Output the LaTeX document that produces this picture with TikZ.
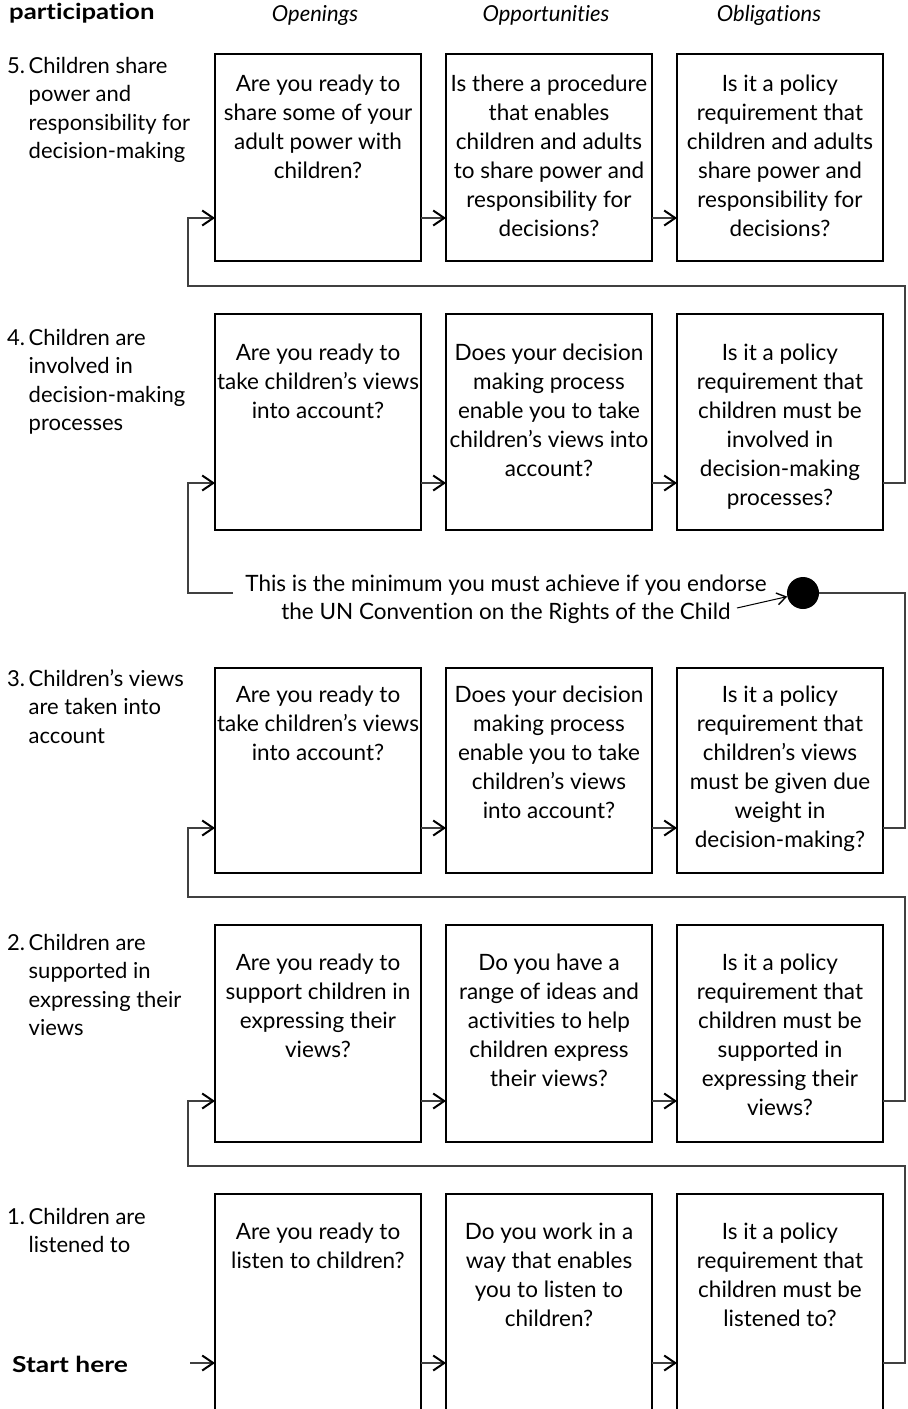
\documentclass[tikz,border=0pt]{standalone}
\usepackage{graphicx}
\usepackage{fontspec}
\setmainfont{Lato}[Ligatures={TeX,NoCommon}]
\usetikzlibrary{arrows.meta}
\begin{document}
\begin{tikzpicture}[x=1pt,y=-1pt,
  box/.style={draw=black, line width=2.8pt, minimum width=206pt, minimum height=#1,
    anchor=north west, inner sep=0pt, outer sep=0pt},
  qtext/.style={anchor=north, align=center, inner sep=0pt,
    font=\fontsize{22.5}{29}\selectfont},
  level/.style={anchor=north west, inner sep=0pt, font=\fontsize{22}{28.5}\selectfont},
  colhead/.style={inner sep=0pt, font=\fontsize{22}{24}\selectfont\itshape},
  boldtext/.style={anchor=west, inner sep=0pt, font=\fontsize{22}{24}\selectfont\bfseries},
  link/.style={line width=1.3pt, draw=black!75,
    -{Straight Barb[length=11pt,width=15pt,line width=2pt,color=black]}},
  backline/.style={line width=1.3pt, draw=black!75},
]
\clip (0,0) rectangle (908,1409);

% headings
\node[boldtext] (hpart) at (9,13) {\scalebox{1.17}[1]{participation}};
\node[colhead] (hopen) at (315,15) {Openings};
\node[colhead] (hopp)  at (546,15) {Opportunities};
\node[colhead] (hobl)  at (769,15) {Obligations};

% level labels
\newcommand\lvl[2]{\begin{tabular}{@{}p{21.5pt}@{}l@{}}#1 & #2\end{tabular}}
\node[level] (l5) at (7,53)   {\lvl{5.}{Children share\\ & power and\\ & responsibility for\\ & decision-making}};
\node[level] (l4) at (7,325)  {\lvl{4.}{Children are\\ & involved in\\ & decision-making\\ & processes}};
\node[level] (l3) at (7,666)  {\lvl{3.}{Children's views\\ & are taken into\\ & account}};
\node[level] (l2) at (7,930)  {\lvl{2.}{Children are\\ & supported in\\ & expressing their\\ & views}};
\node[level] (l1) at (7,1204) {\lvl{1.}{Children are\\ & listened to}};

% boxes: row 5
\node[box=207pt] (b51) at (215,54) {};
\node[box=207pt] (b52) at (446,54) {};
\node[box=207pt] (b53) at (677,54) {};
% row 4
\node[box=216pt] (b41) at (215,314) {};
\node[box=216pt] (b42) at (446,314) {};
\node[box=216pt] (b43) at (677,314) {};
% row 3
\node[box=205pt] (b31) at (215,668) {};
\node[box=205pt] (b32) at (446,668) {};
\node[box=205pt] (b33) at (677,668) {};
% row 2
\node[box=217pt] (b21) at (215,925) {};
\node[box=217pt] (b22) at (446,925) {};
\node[box=217pt] (b23) at (677,925) {};
% row 1 (runs off the bottom edge)
\node[box=240pt] (b11) at (215,1194) {};
\node[box=240pt] (b12) at (446,1194) {};
\node[box=240pt] (b13) at (677,1194) {};

% questions
\node[qtext] (q51) at (318,75) {Are you ready to\\share some of your\\adult power with\\children?};
\node[qtext] (q52) at (549,75) {Is there a procedure\\that enables\\children and adults\\to share power and\\responsibility for\\decisions?};
\node[qtext] (q53) at (780,75) {Is it a policy\\requirement that\\children and adults\\share power and\\responsibility for\\decisions?};

\node[qtext] (q41) at (318,344) {Are you ready to\\take children's views\\into account?};
\node[qtext] (q42) at (549,344) {Does your decision\\making process\\enable you to take\\children's views into\\account?};
\node[qtext] (q43) at (780,344) {Is it a policy\\requirement that\\children must be\\involved in\\decision-making\\processes?};

\node[qtext] (q31) at (318,686) {Are you ready to\\take children's views\\into account?};
\node[qtext] (q32) at (549,686) {Does your decision\\making process\\enable you to take\\children's views\\into account?};
\node[qtext] (q33) at (780,686) {Is it a policy\\requirement that\\children's views\\must be given due\\weight in\\decision-making?};

\node[qtext] (q21) at (318,954) {Are you ready to\\support children in\\expressing their\\views?};
\node[qtext] (q22) at (549,954) {Do you have a\\range of ideas and\\activities to help\\children express\\their views?};
\node[qtext] (q23) at (780,954) {Is it a policy\\requirement that\\children must be\\supported in\\expressing their\\views?};

\node[qtext] (q11) at (318,1223) {Are you ready to\\listen to children?};
\node[qtext] (q12) at (549,1223) {Do you work in a\\way that enables\\you to listen to\\children?};
\node[qtext] (q13) at (780,1223) {Is it a policy\\requirement that\\children must be\\listened to?};

% start
\node[boldtext] (start) at (12,1364) {\scalebox{1.2}[1]{Start here}};

% minimum-standard marker
\node[align=center, inner sep=0pt, font=\fontsize{22.5}{28}\selectfont] (un) at (506,599)
  {This is the minimum you must achieve if you endorse\\the UN Convention on the Rights of the Child};
\node[circle, fill=black, minimum size=32pt, inner sep=0pt] (dot) at (803,593) {};

% arrow levels and turning points
\coordinate (r1) at (190,1363);
\coordinate (r2) at (188,1101);
\coordinate (r3) at (188,828);
\coordinate (r4) at (188,483);
\coordinate (r5) at (188,218);
\coordinate (unl) at (233,593);
\coordinate (una) at (737,608);

% row 1
\draw[link] (r1) -- (b11.west |- r1);
\draw[link] (b11.east |- r1) -- (b12.west |- r1);
\draw[link] (b12.east |- r1) -- (b13.west |- r1);
\draw[link] (b13.east |- r1) -- (905,1363) -- (905,1166) -- (188,1166) -- (r2) -- (b21.west |- r2);
% row 2
\draw[link] (b21.east |- r2) -- (b22.west |- r2);
\draw[link] (b22.east |- r2) -- (b23.west |- r2);
\draw[link] (b23.east |- r2) -- (905,1101) -- (905,897) -- (188,897) -- (r3) -- (b31.west |- r3);
% row 3
\draw[link] (b31.east |- r3) -- (b32.west |- r3);
\draw[link] (b32.east |- r3) -- (b33.west |- r3);
\draw[backline] (b33.east |- r3) -- (905,828) -- (905,593) -- (dot);
\draw[link] (unl) -- (r4 |- unl) -- (r4) -- (b41.west |- r4);
\draw[line width=1pt, -{Straight Barb[length=9pt,width=12pt,line width=1.4pt]}] (una) -- (dot);
% row 4
\draw[link] (b41.east |- r4) -- (b42.west |- r4);
\draw[link] (b42.east |- r4) -- (b43.west |- r4);
\draw[link] (b43.east |- r4) -- (905,483) -- (905,286) -- (188,286) -- (r5) -- (b51.west |- r5);
% row 5
\draw[link] (b51.east |- r5) -- (b52.west |- r5);
\draw[link] (b52.east |- r5) -- (b53.west |- r5);
\end{tikzpicture}
\end{document}
